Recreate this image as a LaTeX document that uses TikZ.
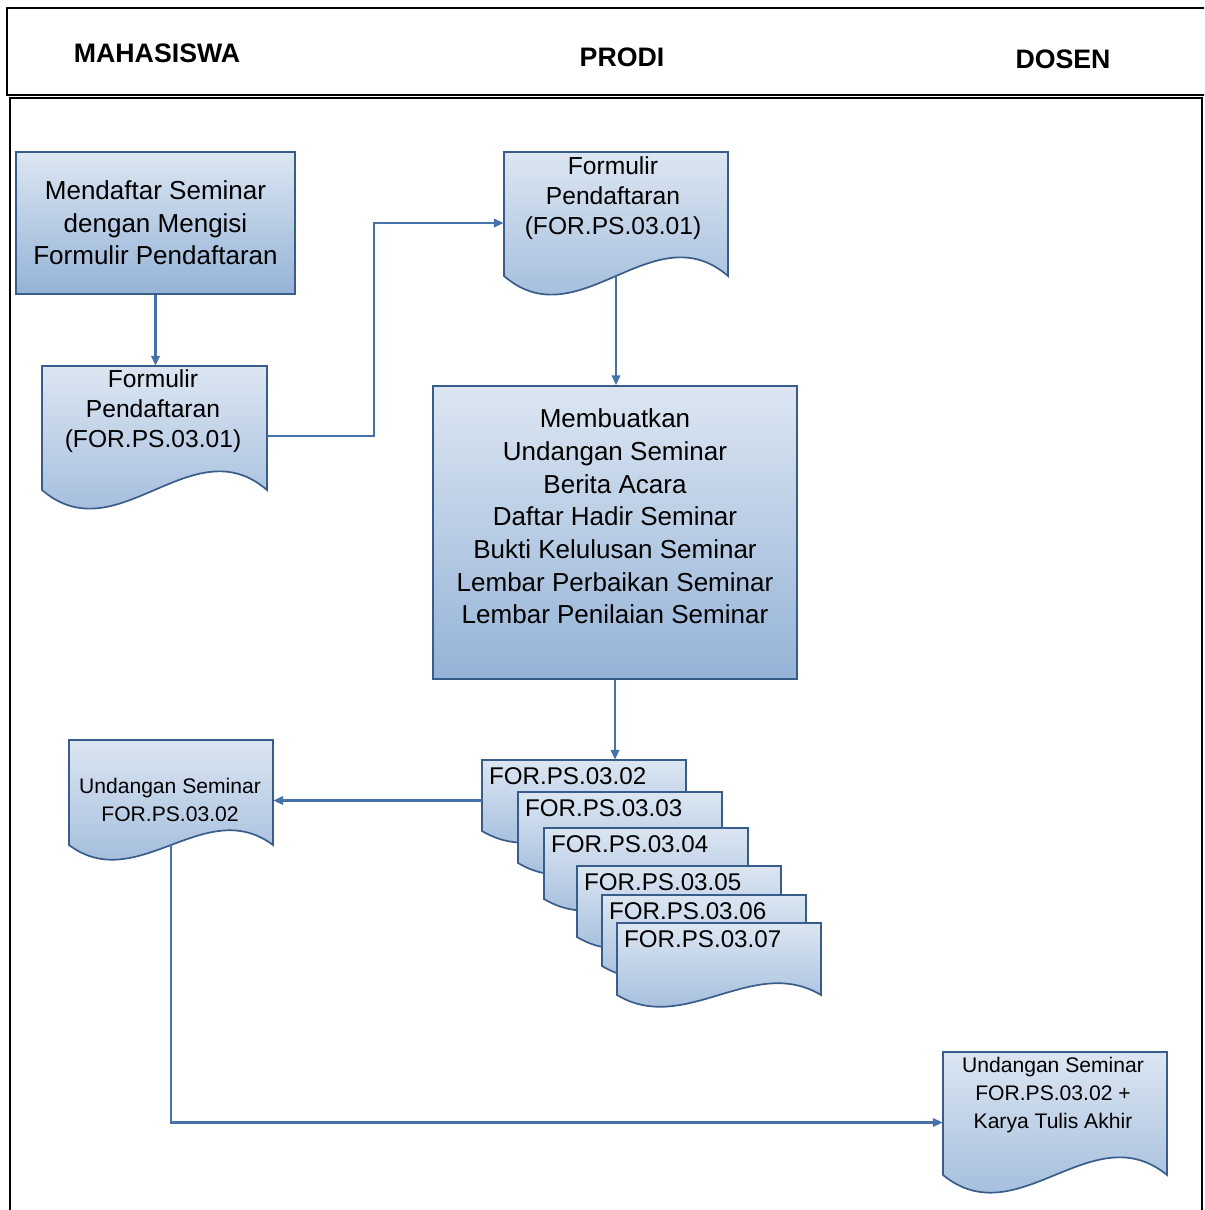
\documentclass[tikz,border=0pt]{standalone}
\usepackage{fontspec}
\setmainfont{Liberation Sans}
\usetikzlibrary{positioning, shapes.geometric, arrows.meta}

\definecolor{docTop}{RGB}{220,230,242}
\definecolor{docBot}{RGB}{149,179,215}
\definecolor{docEdge}{RGB}{56,93,138}
\definecolor{flowLine}{RGB}{70,114,170}

\newlength{\px}
\setlength{\px}{0.025cm}

% document symbol: box with a wavy lower edge, plus a named node over its body
\newcommand{\docshape}[6]{%
  \path[docfill] (#2,#3) -- ({#2+#4},#3) -- ({#2+#4},{#3+#5})
    .. controls ({#2+2*#4/3},{#3+#5-3.4*#6}) and ({#2+#4/3},{#3+#5+3.4*#6}) .. (#2,{#3+#5}) -- cycle;
  \node[docarea, minimum width=#4*\px, minimum height=#5*\px] (#1) at ({#2+#4/2},{#3+#5/2}) {};
}

\begin{document}
\begin{tikzpicture}[x=0.025cm, y=-0.025cm, >={Triangle[length=7pt,width=6pt]}]
  \tikzstyle{frame}=[draw=black, line width=1.4pt]
  \tikzstyle{lane}=[font=\fontsize{19}{23}\selectfont\bfseries]
  \tikzstyle{process}=[rectangle, draw=docEdge, line width=1.2pt, top color=docTop, bottom color=docBot, align=center, font=\fontsize{18.5}{23.2}\selectfont]
  \tikzstyle{proctext}=[align=center, font=\fontsize{18.5}{23.2}\selectfont]
  \tikzstyle{docfill}=[draw=docEdge, line width=1.2pt, top color=docTop, bottom color=docBot]
  \tikzstyle{docarea}=[rectangle, inner sep=0pt]
  \tikzstyle{doctext}=[align=center, font=\fontsize{17.5}{21.3}\selectfont]
  \tikzstyle{smalltext}=[align=center, font=\fontsize{15}{20}\selectfont]
  \tikzstyle{stacktext}=[anchor=west, inner sep=0pt, font=\fontsize{17.2}{20}\selectfont]
  \tikzstyle{flow}=[->, draw=flowLine, line width=1.5pt]

  \useasboundingbox (0,0) rectangle (1204,1210);
  \clip (0,0) rectangle (1204,1210);

  % lanes
  \draw[frame] (7,8) rectangle (1230,95);
  \draw[frame] (10,98) rectangle (1202,1240);
  \node[lane] (mhs)   at (157,53) {MAHASISWA};
  \node[lane] (prodi) at (622,57) {PRODI};
  \node[lane] (dosen) at (1063,59) {DOSEN};

  % steps
  \node[process, minimum width=279*\px, minimum height=142*\px] (daftar) at (155.5,223)
    {Mendaftar Seminar\\dengan Mengisi\\Formulir Pendaftaran};
  \node[process, minimum width=364*\px, minimum height=293*\px,
        label={[proctext, yshift=16*\px]center:{Membuatkan\\Undangan Seminar\\Berita Acara\\Daftar Hadir Seminar\\Bukti Kelulusan Seminar\\Lembar Perbaikan Seminar\\Lembar Penilaian Seminar}}]
        (memb) at (615,532.5) {};

  % documents
  \docshape{formA}{42}{366}{225}{124}{19}
  \node[doctext] (formAt) at (153,411) {Formulir\\Pendaftaran\\(FOR.PS.03.01)};
  \docshape{formB}{504}{152}{224}{124}{19}
  \node[doctext] (formBt) at (613,198) {Formulir\\Pendaftaran\\(FOR.PS.03.01)};
  \docshape{undA}{69}{740}{204}{105}{15}
  \node[smalltext] (undAt) at (170,800) {Undangan Seminar\\FOR.PS.03.02};
  \docshape{final}{943}{1052}{224}{123}{18}
  \node[smalltext] (finalt) at (1053,1095) {Undangan Seminar\\FOR.PS.03.02 +\\Karya Tulis Akhir};

  % stack of forms
  \docshape{s02}{482}{760}{204}{71}{12}
  \docshape{s03}{518}{792}{204}{71}{12}
  \docshape{s04}{544}{828}{204}{71}{12}
  \docshape{s05}{577}{866}{204}{71}{12}
  \docshape{s06}{602}{895}{204}{71}{12}
  \docshape{s07}{617}{923}{204}{72}{12}
  \node[stacktext] (s02t) at ([shift={(7,16)}]s02.north west) {FOR.PS.03.02};
  \node[stacktext] (s03t) at ([shift={(7,16)}]s03.north west) {FOR.PS.03.03};
  \node[stacktext] (s04t) at ([shift={(7,16)}]s04.north west) {FOR.PS.03.04};
  \node[stacktext] (s05t) at ([shift={(7,16)}]s05.north west) {FOR.PS.03.05};
  \node[stacktext] (s06t) at ([shift={(7,16)}]s06.north west) {FOR.PS.03.06};
  \node[stacktext] (s07t) at ([shift={(7,16)}]s07.north west) {FOR.PS.03.07};

  % flow
  \draw[flow] (daftar.south) -- (daftar.south |- formA.north);
  \draw[flow] ([yshift=-8*\px]formA.east) -- ++(107,0) |- ([yshift=-9*\px]formB.west);
  \draw[flow] (formB.south) -- (formB.south |- memb.north);
  \draw[flow] (memb.south) -- (memb.south |- s02.north);
  \draw[flow] ([yshift=-5*\px]s02.west) -- ([yshift=-5*\px]s02.west -| undA.east);
  \draw[flow] (undA.south) |- ([yshift=-9*\px]final.west);
\end{tikzpicture}
\end{document}
